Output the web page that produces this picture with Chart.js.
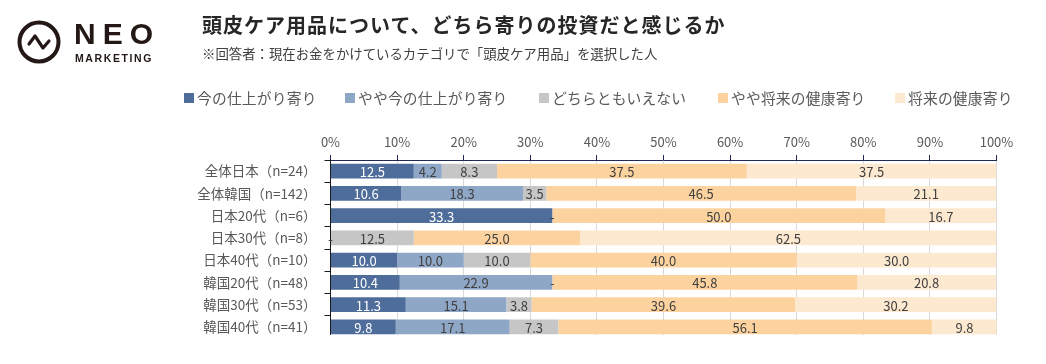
<!DOCTYPE html>
<html lang="ja">
<head>
<meta charset="utf-8">
<title>頭皮ケア用品</title>
<script src="https://cdn.jsdelivr.net/npm/chart.js@4"></script>
<style>
    html, body { margin: 0; padding: 0; background: #fff; overflow: hidden; }
    body { width: 1046px; height: 364px; position: relative; font-family: "Noto Sans CJK JP", sans-serif; }
    canvas { position: absolute; left: 0; top: 0; }
    .abs { position: absolute; white-space: nowrap; }
    #title { left: 202px; top: 11px; font-size: 20px; line-height: 28px; font-weight: 700; letter-spacing: 1px; color: #262626; }
    #subtitle { left: 202px; top: 43px; font-size: 13.4px; line-height: 20px; color: #404040; }
    #neo { left: 74px; top: 17px; font: 700 30px/34px "Liberation Sans", sans-serif; letter-spacing: 7px; color: #231815; }
    #marketing { left: 75px; top: 51px; font: 700 10.5px/14px "Liberation Sans", sans-serif; letter-spacing: 1.6px; color: #231815; }
    #legend span { position: absolute; top: 87px; font-size: 14.75px; line-height: 22px; letter-spacing: .2px; color: #595959; white-space: nowrap; }
    #legend i { position: absolute; top: 93px; width: 10px; height: 10px; }
</style>
</head>
<body>
<canvas id="chart" width="1046" height="364"></canvas>
<svg class="abs" style="left:0;top:0" width="70" height="70" viewBox="0 0 70 70">
    <circle cx="39" cy="42" r="19.5" fill="none" stroke="#231815" stroke-width="4"/>
    <polyline points="29,44 35,36 43,48 49,41" fill="none" stroke="#231815" stroke-width="3.2" stroke-linejoin="round" stroke-linecap="round"/>
</svg>
<div class="abs" id="neo">NEO</div>
<div class="abs" id="marketing">MARKETING</div>
<div class="abs" id="title">頭皮ケア用品について、どちら寄りの投資だと感じるか</div>
<div class="abs" id="subtitle">※回答者：現在お金をかけているカテゴリで「頭皮ケア用品」を選択した人</div>
<div id="legend"></div>
<script>
const categories = ['全体日本（n=24）', '全体韓国（n=142）', '日本20代（n=6）', '日本30代（n=8）', '日本40代（n=10）', '韓国20代（n=48）', '韓国30代（n=53）', '韓国40代（n=41）'];
const seriesNames = ['今の仕上がり寄り', 'やや今の仕上がり寄り', 'どちらともいえない', 'やや将来の健康寄り', '将来の健康寄り'];
const nowSide = [12.5, 10.6, 33.3, 0, 10.0, 10.4, 11.3, 9.8];
const slightNowSide = [4.2, 18.3, 0, 0, 10.0, 22.9, 15.1, 17.1];
const neither = [8.3, 3.5, 0, 12.5, 10.0, 0, 3.8, 7.3];
const slightFutureSide = [37.5, 46.5, 50.0, 25.0, 40.0, 45.8, 39.6, 56.1];
const futureSide = [37.5, 21.1, 16.7, 62.5, 30.0, 20.8, 30.2, 9.8];
const seriesValues = [nowSide, slightNowSide, neither, slightFutureSide, futureSide];
const seriesColors = ['#4f6d9a', '#8fa7c7', '#c6c6c6', '#fcd39f', '#fde8d0'];
const legendX = [184, 345, 539, 718, 895];

const FONT = '"Noto Sans CJK JP", sans-serif';

// values on the bars; an empty segment shows as a dash
const barLabels = {
    id: 'barLabels',
    afterDatasetsDraw(chart) {
        const { ctx } = chart;
        ctx.save();
        ctx.font = `13px ${FONT}`;
        ctx.textAlign = 'center';
        ctx.textBaseline = 'middle';
        chart.data.datasets.forEach((ds, i) => {
            chart.getDatasetMeta(i).data.forEach((bar, j) => {
                const v = ds.data[j];
                const { x, y, base } = bar.getProps(['x', 'y', 'base']);
                ctx.fillStyle = i === 0 && v > 0 ? '#fff' : '#404040';
                ctx.fillText(v > 0 ? v.toFixed(1) : '-', (x + base) / 2, y + 1);
            });
        });
        ctx.restore();
    },
};

// the source image is cut off just under the last bar
const cropBottom = {
    id: 'cropBottom',
    afterDraw(chart) {
        chart.ctx.save();
        chart.ctx.fillStyle = '#fff';
        chart.ctx.fillRect(300, 335, 720, 10);
        chart.ctx.restore();
    },
};

const chart = new Chart(document.getElementById('chart'), {
    type: 'bar',
    data: {
        labels: categories,
        datasets: seriesNames.map((name, i) => ({
            label: name,
            data: seriesValues[i],
            backgroundColor: seriesColors[i],
            categoryPercentage: 1,
            barPercentage: 0.673,
        })),
    },
    plugins: [barLabels, cropBottom],
    options: {
        responsive: false,
        animation: false,
        indexAxis: 'y',
        layout: { padding: { top: 0, left: 0, right: 49.5, bottom: 26 } },
        plugins: { legend: { display: false }, tooltip: { enabled: false } },
        scales: {
            x: {
                position: 'top',
                stacked: true,
                min: 0,
                max: 100,
                afterFit: (s) => { s.height = 160; },
                border: { color: '#1f2a56', width: 1 },
                grid: { color: '#d9d9d9', tickColor: '#1f2a56', tickLength: 5 },
                ticks: { stepSize: 10, maxRotation: 0, padding: 5, color: '#595959', font: { family: FONT, size: 13 }, callback: (v) => `${v}%` },
            },
            y: {
                stacked: true,
                afterFit: (s) => { s.width = 330.5; },
                border: { color: '#1a1a1a', width: 1 },
                grid: { drawOnChartArea: false, tickLength: 6, tickColor: '#1a1a1a' },
                ticks: { padding: 8, color: '#595959', font: { family: FONT, size: 13.5 } },
            },
        },
    },
});

document.getElementById('legend').innerHTML = chart.data.datasets.map((ds, i) => `
    <i style="left:${legendX[i]}px;background:${ds.backgroundColor}"></i><span style="left:${legendX[i] + 13}px">${ds.label}</span>`).join('');
</script>
</body>
</html>
